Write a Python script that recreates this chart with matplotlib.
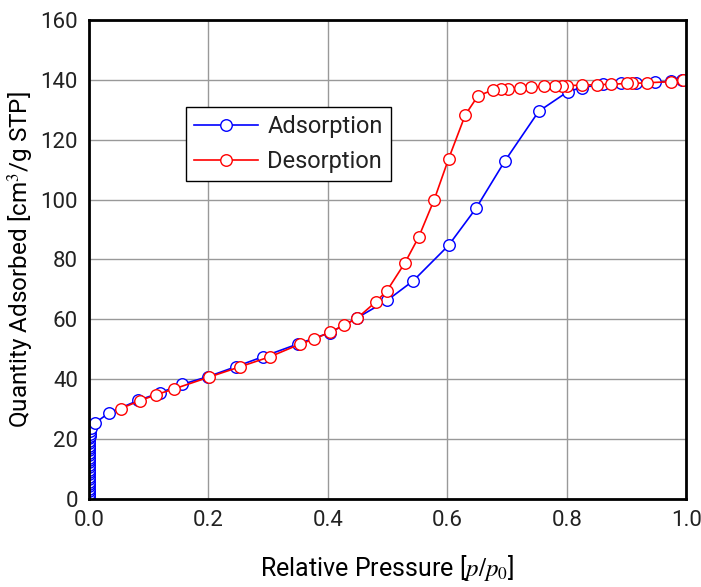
import numpy as np
import matplotlib.pyplot as plt

plt.rcParams['font.family'] = ['Roboto', 'DejaVu Sans']
plt.rcParams['mathtext.fontset'] = 'stix'
plt.rcParams['text.color'] = '#222222'
plt.rcParams['xtick.color'] = '#222222'
plt.rcParams['ytick.color'] = '#222222'

# adsorption branch (blue)
ads_x = [0.0005, 0.0005, 0.0005, 0.0005, 0.0005, 0.0005, 0.0005, 0.0005, 0.0005, 0.0005,
         0.0005, 0.0005, 0.0005, 0.0005, 0.0005, 0.0005, 0.0005, 0.0005, 0.0005, 0.0005,
         0.0005, 0.0005, 0.0005, 0.0005, 0.0005, 0.0005, 0.0008, 0.001, 0.002, 0.004, 0.01,
         0.034, 0.082, 0.119, 0.156, 0.2, 0.246, 0.291, 0.35, 0.404, 0.449, 0.499,
         0.543, 0.602, 0.648, 0.696, 0.753, 0.802, 0.825, 0.86, 0.89, 0.916, 0.948,
         0.974, 0.993]
ads_y = [0.2, 1.0, 1.8, 2.6, 3.4, 4.2, 5.0, 5.8, 6.6, 7.4,
         8.2, 9.0, 9.8, 10.6, 11.4, 12.2, 13.0, 13.8, 14.6, 15.4,
         16.2, 17.0, 17.8, 18.6, 19.4, 20.2, 21.0, 21.8, 22.6, 23.6, 25.4,
         28.8, 32.9, 35.5, 38.3, 40.9, 44.2, 47.5, 51.8, 55.6, 60.5, 66.3,
         72.9, 84.7, 97.1, 112.8, 129.5, 136.1, 137.4, 138.5, 138.8, 138.9, 139.2,
         139.5, 139.8]

# desorption branch (red)
des_x = [0.994, 0.974, 0.934, 0.909, 0.9, 0.874, 0.85, 0.825, 0.801, 0.792,
         0.781, 0.761, 0.740, 0.721, 0.701, 0.69, 0.676, 0.651, 0.630, 0.602,
         0.578, 0.552, 0.529, 0.499, 0.48, 0.449, 0.427, 0.404, 0.377, 0.353,
         0.303, 0.252, 0.201, 0.143, 0.112, 0.085, 0.053]
des_y = [139.8, 139.4, 139.0, 138.8, 138.8, 138.5, 138.4, 138.2, 138.1, 138.0,
         137.9, 137.8, 137.5, 137.2, 137.0, 136.8, 136.6, 134.6, 128.3, 113.6,
         100.0, 87.5, 78.9, 69.6, 65.8, 60.4, 58.0, 55.8, 53.4, 51.7,
         47.5, 44.1, 40.7, 36.8, 34.8, 32.8, 30.2]

fig = plt.figure(figsize=(7.01, 5.87), dpi=100)
ax = fig.add_axes([0.127, 0.150, 0.852, 0.816])

ax.plot(ads_x, ads_y, color='blue', lw=1.2, marker='o', ms=8.3,
        mfc='white', mec='blue', mew=1.0, label='Adsorption')
ax.plot(des_x, des_y, color='red', lw=1.2, marker='o', ms=8.3,
        mfc='white', mec='red', mew=1.0, label='Desorption')

ax.set_xlim(0, 1)
ax.set_ylim(0, 160)
ax.set_xticks(np.arange(0, 1.01, 0.2))
ax.set_yticks(np.arange(0, 161, 20))
ax.set_xticklabels(['0.0', '0.2', '0.4', '0.6', '0.8', '1.0'])
ax.tick_params(length=0, labelsize=16, pad=8)
ax.grid(True, color='#999999', lw=1.0)
for s in ax.spines.values():
    s.set_linewidth(2.0)
    s.set_zorder(5)

ax.set_xlabel('Relative Pressure [$p/p_0$]', fontsize=18, labelpad=16)
ax.set_ylabel('Quantity Adsorbed [cm$^3$/g STP]', fontsize=17.5, labelpad=3)

leg = ax.legend(loc='upper left', bbox_to_anchor=(0.162, 0.818), fontsize=17,
                fancybox=False, framealpha=1, edgecolor='black',
                handlelength=2.7, handletextpad=0.4, borderpad=0.35,
                labelspacing=0.5, borderaxespad=0)
leg.get_frame().set_linewidth(1.0)

fig.savefig('out.png', dpi=100)
